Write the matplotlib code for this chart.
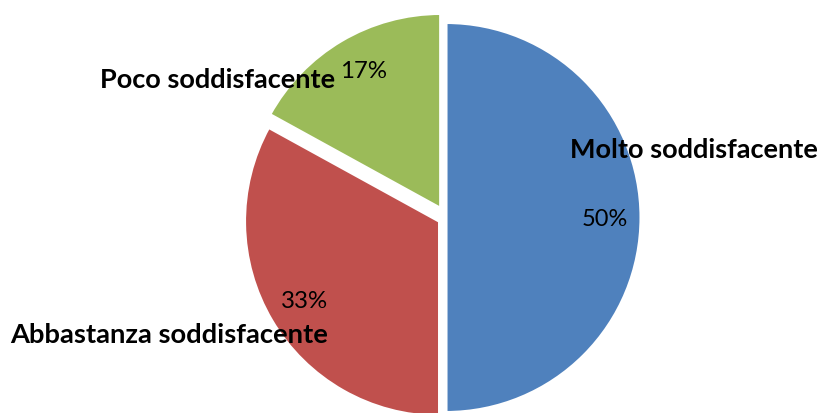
import matplotlib.pyplot as plt

# data
categories = ["Molto soddisfacente", "Abbastanza soddisfacente", "Poco soddisfacente"]
percent = [50, 33, 17]
colors = ["#4F81BD", "#C0504D", "#9BBB59"]
explode = [0.0, 7.5, 10.5]  # pixels, axes are in picture pixels

W, H = 823, 414
fig = plt.figure(figsize=(W / 100, H / 100), dpi=100)
ax = fig.add_axes([0, 0, 1, 1])

ax.pie(percent, colors=colors, explode=explode, startangle=90, counterclock=False,
       center=(446, H - 218.5), radius=195,
       wedgeprops=dict(edgecolor="white", linewidth=2.2))
ax.set_xlim(0, W)
ax.set_ylim(0, H)
ax.set_aspect("equal")
ax.axis("off")

# labels: (text, left x, centre y in picture pixels, target width, bold)
labels = [
    ("Molto soddisfacente", 570, 150, 248, True),
    ("50%", 582, 220, 46, False),
    ("Poco soddisfacente", 100, 80, 236, True),
    ("17%", 340, 72, 47, False),
    ("Abbastanza soddisfacente", 10, 335, 318, True),
    ("33%", 281, 302, 47, False),
]

texts = []
for txt, x, y, w, bold in labels:
    t = ax.text(x, H - y, txt, ha="left", va="center", fontsize=20,
                fontweight="bold" if bold else "normal",
                family=["Lato", "DejaVu Sans"], color="black")
    texts.append((t, w))

# fit each label to the width it has in the picture
fig.canvas.draw()
r = fig.canvas.get_renderer()
for t, w in texts:
    bb = t.get_window_extent(r)
    t.set_fontsize(t.get_fontsize() * w / bb.width)

fig.savefig("out.png", dpi=100)
